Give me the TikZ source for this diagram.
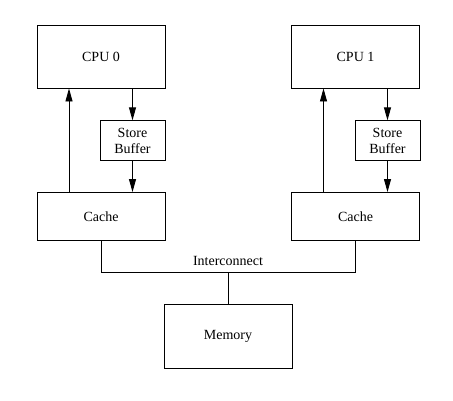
\documentclass[tikz,border=0pt]{standalone}
\usepackage{fontspec}
\setmainfont{Liberation Serif}
\usetikzlibrary{arrows.meta}
\begin{document}
\begin{tikzpicture}
  [
    x = 1pt, y = -1pt, line width = 0.9pt,
    every node/.style = {font = \fontsize{14}{16}\selectfont, inner sep = 0pt},
    unitbox/.style = {draw, rectangle, align = center, minimum width = 128pt},
    >={Triangle[length = 13pt, width = 7pt]}
  ]
    \useasboundingbox (0,0) rectangle (453,400);
    \node (cpua) [unitbox, minimum height = 63pt] at (101,56.5) {CPU 0};
    \node (sba) [unitbox, minimum width = 65pt, minimum height = 40pt] at (132.5,140.8) {Store\\Buffer};
    \node (cachea) [unitbox, minimum height = 48pt] at (101,216.5) {Cache};
    \node (cpub) [unitbox, minimum height = 63pt] at (355.5,56.5) {CPU 1};
    \node (sbb) [unitbox, minimum width = 65pt, minimum height = 40pt] at (387.5,140.8) {Store\\Buffer};
    \node (cacheb) [unitbox, minimum height = 48pt] at (355.5,216.5) {Cache};
    \node (mem) [unitbox, minimum height = 64pt] at (228,336) {Memory};
    \node (ic) at (228,260.7) {Interconnect};
    \coordinate (bus) at (228,272.7);
    \draw [->] ([xshift = -32pt]cachea.north) -- ([xshift = -32pt]cpua.south);
    \draw [->] (cpua.south -| sba) -- (sba.north);
    \draw [->] (sba.south) -- (cachea.north -| sba);
    \draw [->] ([xshift = -32pt]cacheb.north) -- ([xshift = -32pt]cpub.south);
    \draw [->] (cpub.south -| sbb) -- (sbb.north);
    \draw [->] (sbb.south) -- (cacheb.north -| sbb);
    \draw (cachea.south) |- (bus) -| (cacheb.south);
    \draw (bus) -- (mem.north);
  \end{tikzpicture}
\end{document}
